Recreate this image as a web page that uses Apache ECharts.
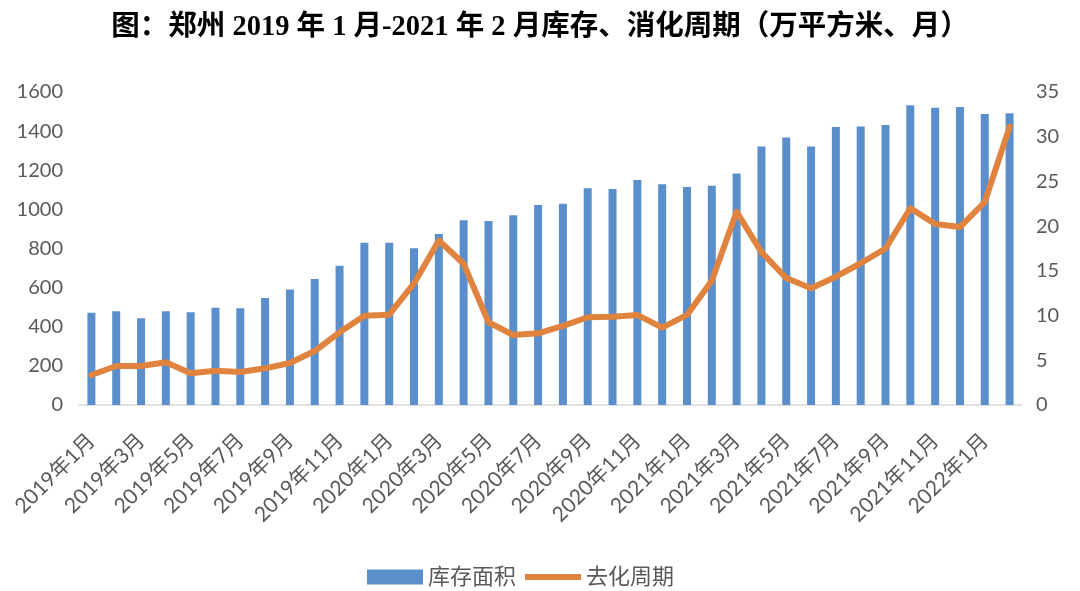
<!DOCTYPE html>
<html><head><meta charset="utf-8">
<script src="https://cdn.jsdelivr.net/npm/echarts@6/dist/echarts.min.js"></script>
<style>html,body{margin:0;padding:0;background:#fff}#c{width:1080px;height:591px}</style>
</head><body><div id="c"></div>
<script>
const categories = (function(){const a=[];for(let y=2019;y<=2022;y++){for(let m=1;m<=12;m++){if(y===2022&&m>2)break;a.push(y+'年'+m+'月');}}return a;})();
const inventory = [472,479,443,479,474,497,494,547,590,644,712,830,830,801,874,944,941,970,1022,1029,1108,1104,1150,1128,1114,1121,1184,1322,1368,1322,1421,1424,1431,1532,1520,1523,1488,1491];
const cycle = [3.35,4.36,4.36,4.77,3.54,3.84,3.69,4.10,4.70,6.04,8.13,9.99,10.1,13.6,18.4,15.8,9.25,7.83,8.02,8.84,9.81,9.88,10.07,8.65,10.07,13.9,21.6,17.1,14.2,13.05,14.35,15.85,17.5,22.0,20.25,19.9,22.7,31.1];
const titleText = '图：郑州 2019 年 1 月-2021 年 2 月库存、消化周期（万平方米、月）';
const seriesNames = ['库存面积','去化周期'];

const font = 'Lato, "Noto Sans CJK SC", sans-serif';
const chart = echarts.init(document.getElementById('c'));
chart.setOption({
  animation:false,
  backgroundColor:'#fff',
  title:{text:titleText,left:'center',top:8,textStyle:{fontSize:28.5,fontWeight:'bold',color:'#000',fontFamily:'"Liberation Serif", "Noto Sans CJK SC", serif'}},
  legend:{top:566,left:367,padding:0,itemWidth:56,itemHeight:15,itemGap:9,
    textStyle:{fontSize:22,color:'#595959',fontFamily:font},
    data:[{name:seriesNames[0],icon:'rect'},{name:seriesNames[1],icon:'path://M0,0 L65,0 L65,7 L0,7 Z'}]},
  grid:{left:79,right:58,top:92,bottom:186},
  xAxis:{type:'category',data:categories,
    axisLine:{lineStyle:{color:'#D9D9D9',width:1.5}},axisTick:{show:false},
    axisLabel:{interval:1,rotate:45,fontSize:21,color:'#595959',fontFamily:font,margin:32}},
  yAxis:[
    {type:'value',min:0,max:1600,interval:200,splitLine:{show:false},axisLine:{show:false},axisTick:{show:false},
     axisLabel:{fontSize:20,color:'#595959',fontFamily:font,margin:16,formatter:v=>String(v)}},
    {type:'value',min:0,max:35,interval:5,splitLine:{show:false},axisLine:{show:false},axisTick:{show:false},
     axisLabel:{fontSize:20,color:'#595959',fontFamily:font,margin:14}}
  ],
  series:[
    {name:seriesNames[0],type:'bar',data:inventory,barWidth:8,itemStyle:{color:'#5B8FCB'}},
    {name:seriesNames[1],type:'line',yAxisIndex:1,data:cycle,symbol:'none',
     lineStyle:{color:'#E0833F',width:6,cap:'round',join:'round'},itemStyle:{color:'#E0833F'}}
  ]
});
</script></body></html>
